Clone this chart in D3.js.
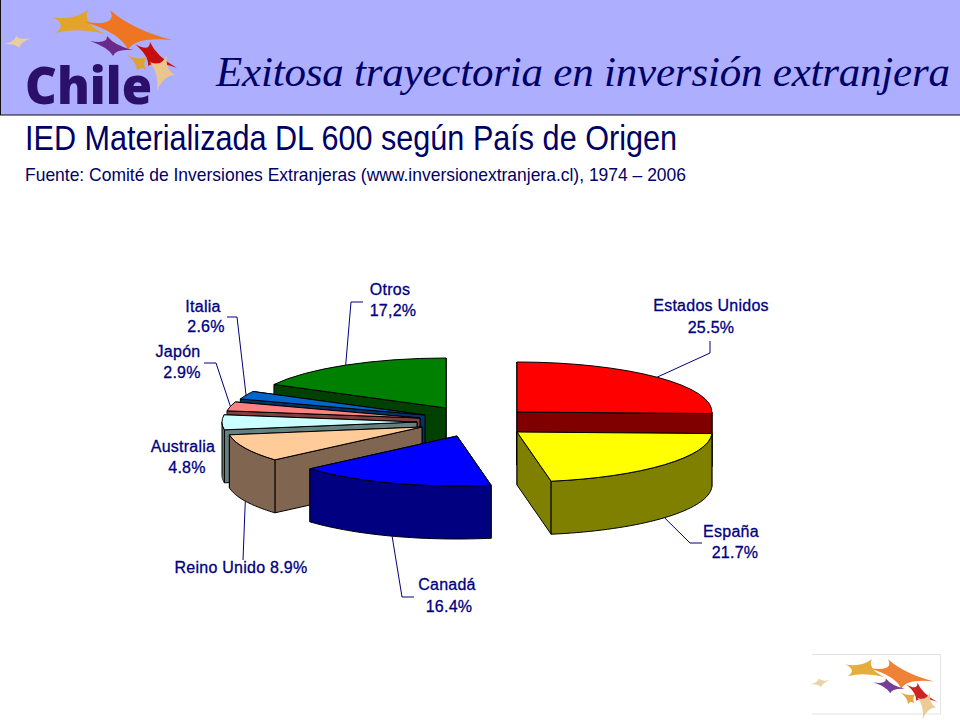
<!DOCTYPE html>
<html><head><meta charset="utf-8">
<script src="https://cdn.jsdelivr.net/npm/d3@7/dist/d3.min.js"></script>
<style>html,body{margin:0;padding:0;background:#fff}svg{display:block}</style>
</head><body><svg id="c" width="960" height="720"></svg>
<script>
// ---- data ----
const categories = ["Estados Unidos","España","Canadá","Reino Unido","Australia","Japón","Italia","Otros"];
const values = [25.5,21.7,16.4,8.9,4.8,2.9,2.6,17.2];
const valueLabels = ["25.5%","21.7%","16.4%","8.9%","4.8%","2.9%","2.6%","17,2%"];
const titleText = "Exitosa trayectoria en inversión extranjera";
const headingText = "IED Materializada DL 600 según País de Origen";
const sourceText = "Fuente: Comité de Inversiones Extranjeras (www.inversionextranjera.cl), 1974 – 2006";

// ---- layout & style ----
const topColors  = ["#ff0000","#ffff00","#0000ff","#ffcc99","#ccffff","#ff8080","#0066cc","#008000"];
const sideColors = ["#800000","#808000","#000080","#806650","#668080","#804040","#003366","#004000"];
const apexes = [[517,412],[517,432],[457,436],[422,427],[417,422],[420,418],[425,415],[446,408]];
const drawOrder = [7,6,5,4,3,2,0,1];
const RX = 195, RY = 50, DEPTH = 53, NAVY = "#000080";
const labelPos = [
  [[711,311],[711,333]],[[731,537],[735,558]],[[447,590],[449,612]],
  [[241,573]],[[183,452],[187,473]],[[178,357],[182,378]],[[203,312],[206,332]],[[390,295],[393,316]]];
const leaderBends = [[[710,353],[710,341]],[[690,543],[702,543]],[[402,597],[414,597]],
  [[243,560]],[],[[216,363],[204,363]],[[237,317],[227,317]],[[351,302],[363,302]]];
const lowerRim = [false,true,true,true,false,false,false,false];

const svg = d3.select("#c");
const defs = svg.append("defs");
defs.append("filter").attr("id","soft").append("feGaussianBlur").attr("stdDeviation",0.5);

// ---- header ----
svg.append("rect").attr("x",0.5).attr("y",-1).attr("width",961).attr("height",116)
  .attr("fill","#aeaeff").attr("stroke","#111").attr("stroke-width",1);

const stars = [
  {c:[75,24], f:"#e2a52a",t:[[88,10],[105,34],[55,33],[52,17]]},
  {c:[128,32],f:"#ee7422",t:[[110,10],[172,40],[128,50],[85,22]]},
  {c:[112,47],f:"#6b2a8c",t:[[107,36],[133,50],[113,56],[90,41]]},
  {c:[153,57],f:"#c81010",t:[[150,42],[177,68],[148,66],[135,44]]},
  {c:[140,63],f:"#e0a030",t:[[147,57],[146,70],[137,71],[127,55]]},
  {c:[162,72],f:"#eac68c",t:[[167,55],[175,75],[157,91],[150,62]]},
  {c:[18,42], f:"#e9cfa0",t:[[31,38],[19,48],[4,44],[16,36]]}
];
function starPath(s){
  const p = d3.path();
  s.t.forEach((tip,i)=>{
    const next = s.t[(i+1)%s.t.length];
    if(i===0) p.moveTo(tip[0],tip[1]);
    const mx = s.c[0]+((tip[0]+next[0])/2-s.c[0])*0.32, my = s.c[1]+((tip[1]+next[1])/2-s.c[1])*0.32;
    p.quadraticCurveTo(mx,my,next[0],next[1]);
  });
  p.closePath();
  return p.toString();
}
function drawStars(g){
  g.selectAll("path.s").data(stars).join("path").attr("class","s").attr("d",starPath).attr("fill",d=>d.f);
}
drawStars(svg.append("g").attr("filter","url(#soft)"));
svg.append("text").attr("x",25).attr("y",104)
  .attr("font-family","'Open Sans','Liberation Sans',sans-serif").attr("font-weight",800).attr("font-size",51)
  .attr("textLength",127).attr("lengthAdjust","spacingAndGlyphs")
  .attr("fill","#2a0f6b").text("Chile");

svg.append("text").attr("x",216).attr("y",86)
  .attr("font-family","'Liberation Serif','Times New Roman',serif").attr("font-style","italic").attr("font-size",43)
  .attr("textLength",734).attr("lengthAdjust","spacing").attr("fill","#000066").text(titleText);
svg.append("text").attr("x",25).attr("y",150)
  .attr("font-family","'Liberation Sans',Arial,sans-serif").attr("font-size",35)
  .attr("textLength",652).attr("lengthAdjust","spacingAndGlyphs").attr("fill","#000066").text(headingText);
svg.append("text").attr("x",25).attr("y",181)
  .attr("font-family","'Liberation Sans',Arial,sans-serif").attr("font-size",19)
  .attr("textLength",661).attr("lengthAdjust","spacingAndGlyphs").attr("fill","#000066").text(sourceText);

// ---- pie ----
const arcs = d3.pie().sort(null).value(d=>d).startAngle(0).endAngle(2*Math.PI)(values);
const line = d3.line();
const rim = (i,a,drop=0)=>[apexes[i][0]+RX*Math.sin(a), apexes[i][1]-RY*Math.cos(a)+drop];
const scale3d = `scale(${RX/100},${RY/100})`;
const topArc = d3.arc().innerRadius(0).outerRadius(100);
const chart = svg.append("g");

drawOrder.forEach(i=>{
  const d = arcs[i], [ax,ay] = apexes[i];
  const g = chart.append("g").attr("stroke","#000").attr("stroke-width",1).attr("stroke-linejoin","round");
  // farther radial wall first, so a hidden wall never overpaints the visible one
  [d.startAngle,d.endAngle].sort((p,q)=>rim(i,p)[1]-rim(i,q)[1]).forEach(a=>{
    g.append("path").attr("fill",sideColors[i]).attr("d",
      line([[ax,ay],rim(i,a),rim(i,a,DEPTH),[ax,ay+DEPTH]])+"Z");
  });
  const lo = Math.max(d.startAngle,Math.PI/2), hi = Math.min(d.endAngle,3*Math.PI/2);
  if(hi>lo){
    const steps = d3.range(0,41).map(k=>lo+(hi-lo)*k/40);
    const pts = steps.map(a=>rim(i,a)).concat(steps.slice().reverse().map(a=>rim(i,a,DEPTH)));
    g.append("path").attr("fill",sideColors[i]).attr("d",line(pts)+"Z");
  }
  g.append("path").attr("fill",topColors[i]).attr("vector-effect","non-scaling-stroke")
    .attr("transform",`translate(${ax},${ay}) ${scale3d}`).attr("d",topArc(d));
});

// ---- leaders & labels ----
const lab = svg.append("g");
arcs.forEach((d,i)=>{
  if(leaderBends[i].length){
    const mid = (d.startAngle+d.endAngle)/2;
    const anchor = rim(i,mid,lowerRim[i]?DEPTH:0);
    lab.append("path").attr("fill","none").attr("stroke",NAVY).attr("stroke-width",1)
      .attr("d",line([anchor,...leaderBends[i]]));
  }
  const lines = labelPos[i].length===2 ? [categories[i],valueLabels[i]] : [categories[i]+" "+valueLabels[i]];
  lines.forEach((t,k)=>{
    lab.append("text").attr("x",labelPos[i][k][0]).attr("y",labelPos[i][k][1]).attr("text-anchor","middle")
      .attr("font-family","'Liberation Sans',Arial,sans-serif").attr("font-size",16)
      .attr("letter-spacing",0.25)
      .attr("fill",NAVY).attr("stroke",NAVY).attr("stroke-width",0.3).text(t);
  });
});

// ---- footer logo ----
svg.append("rect").attr("x",808).attr("y",654.5).attr("width",132.5).attr("height",59.5)
  .attr("fill","#fff").attr("stroke","#e4e4e4");
svg.append("rect").attr("x",804).attr("y",650).attr("width",8).attr("height",68).attr("fill","#fff");
const fg = svg.append("g").attr("transform","translate(807,652) scale(0.737)").attr("filter","url(#soft)").attr("opacity",0.9);
drawStars(fg);
</script></body></html>
